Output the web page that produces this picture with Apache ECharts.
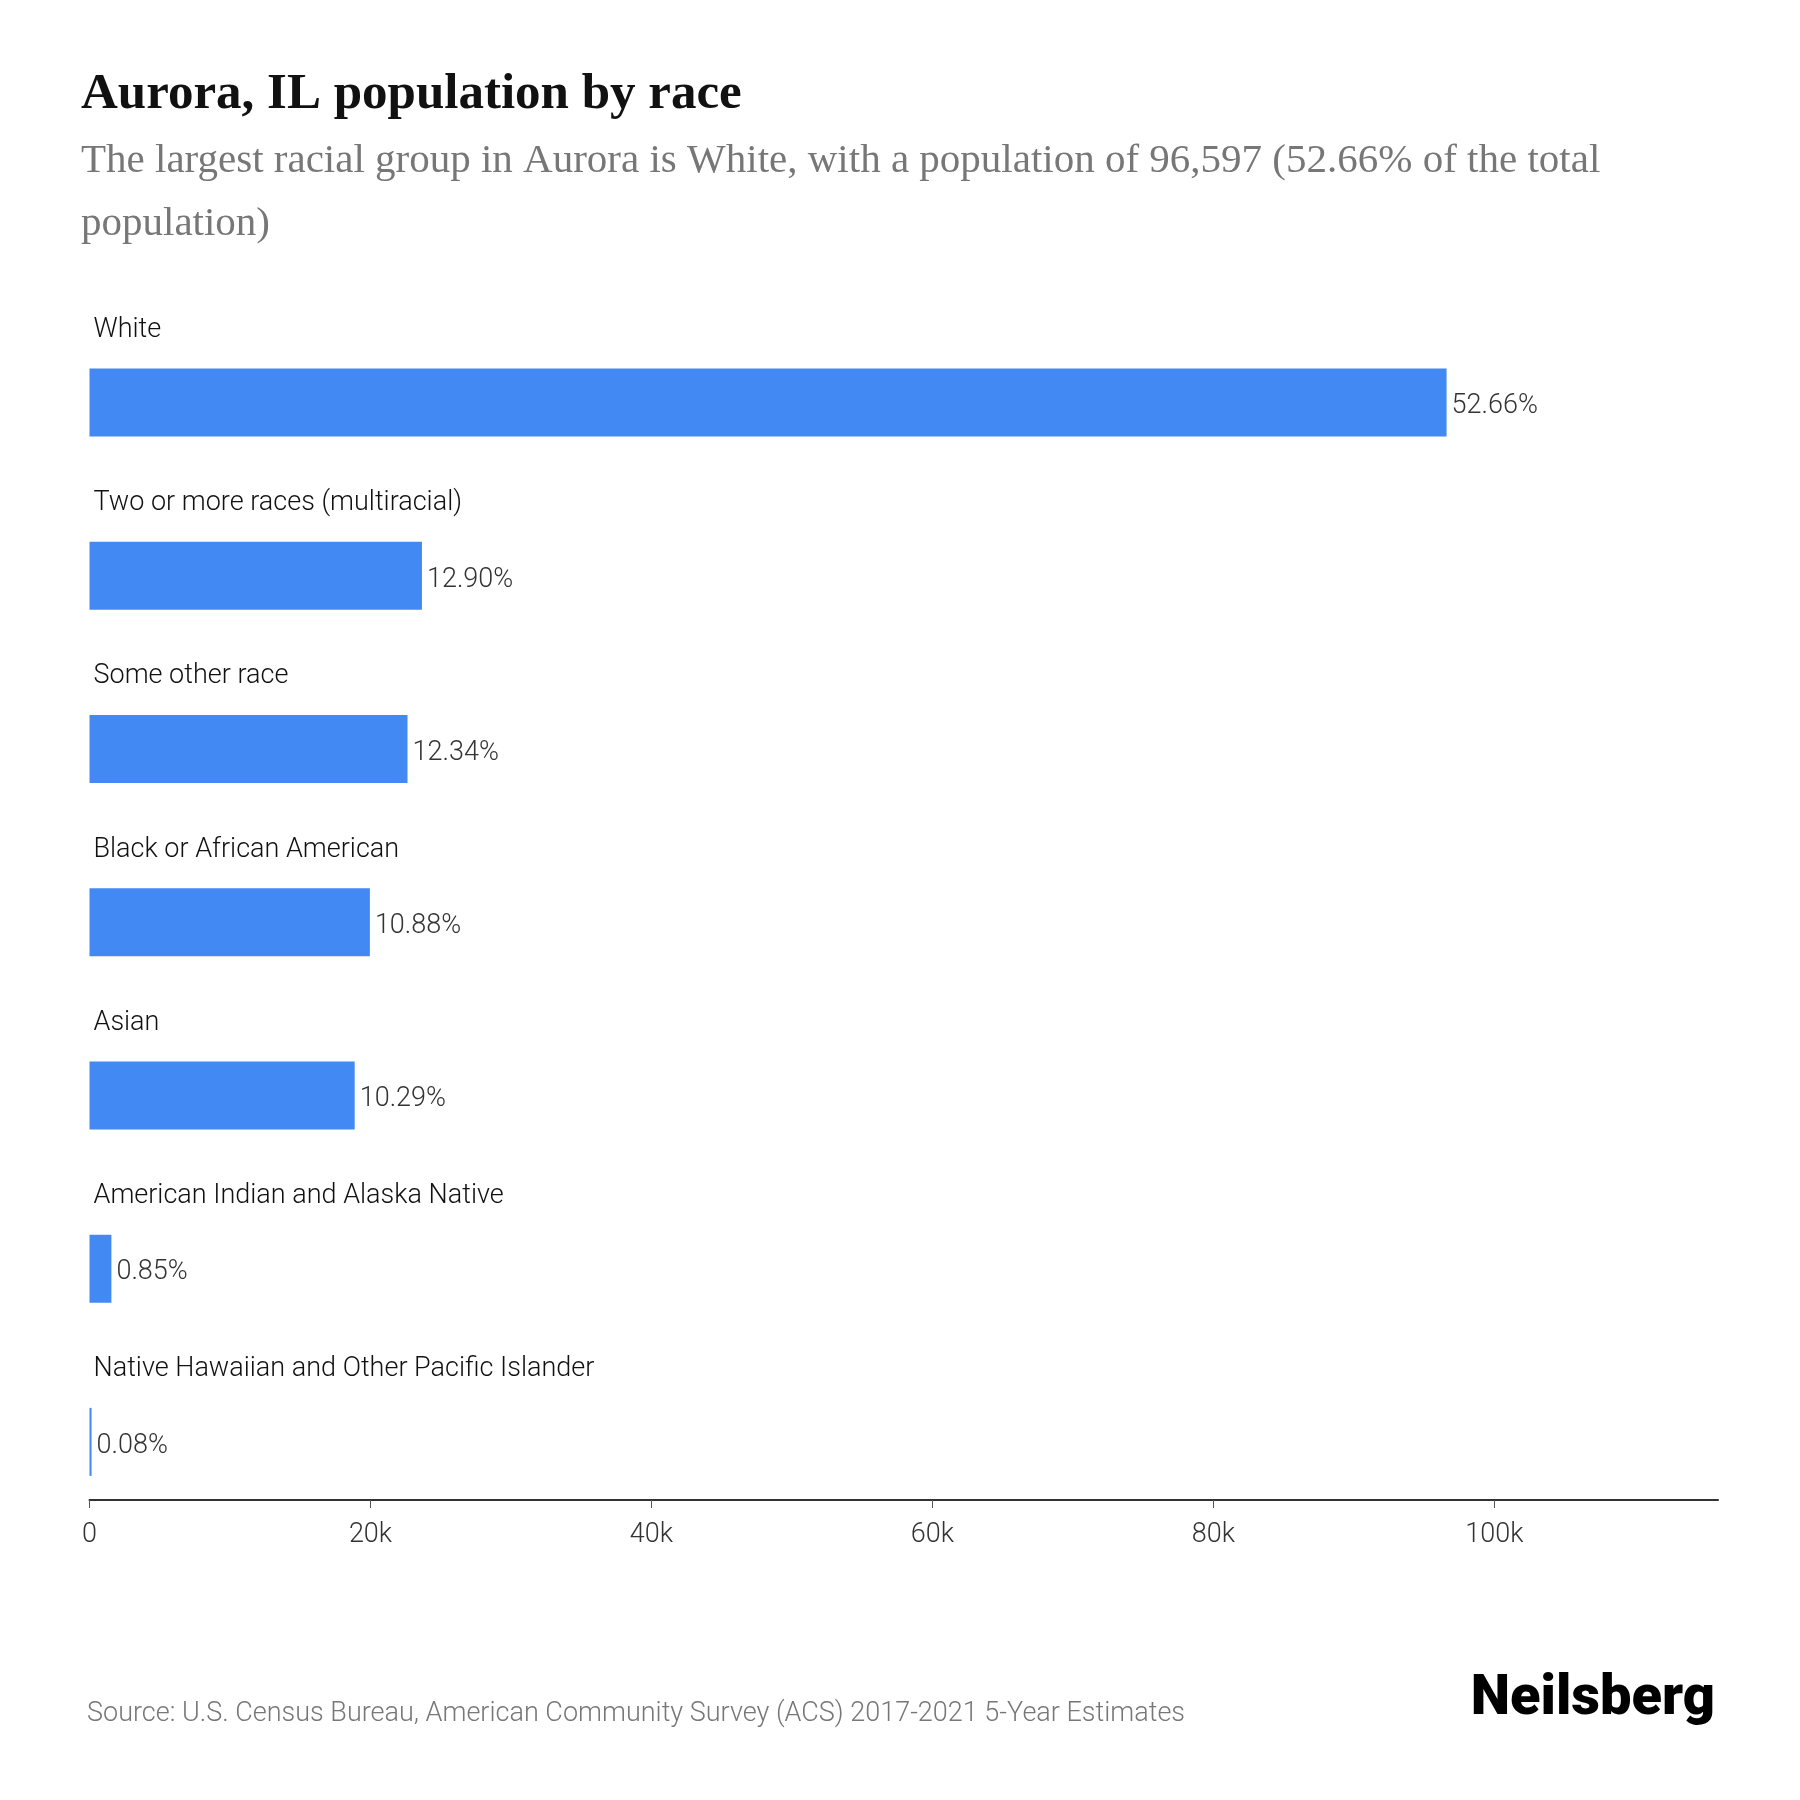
<!DOCTYPE html>
<html>
<head>
<meta charset="utf-8">
<script src="https://cdn.jsdelivr.net/npm/echarts@6/dist/echarts.min.js"></script>
<style>
  html, body { margin: 0; padding: 0; background: #ffffff; }
  #chart { width: 1800px; height: 1800px; }
</style>
</head>
<body>
<div id="chart"></div>
<script>
const categories = [
  'White',
  'Two or more races (multiracial)',
  'Some other race',
  'Black or African American',
  'Asian',
  'American Indian and Alaska Native',
  'Native Hawaiian and Other Pacific Islander'
];
const population = [96597, 23663, 22636, 19958, 18875, 1559, 147];
const percentLabels = ['52.66%', '12.90%', '12.34%', '10.88%', '10.29%', '0.85%', '0.08%'];
const tickValues = [0, 20000, 40000, 60000, 80000, 100000];
const axisMax = 115916;

const chart = echarts.init(document.getElementById('chart'), null, { renderer: 'canvas' });

chart.setOption({
  backgroundColor: '#ffffff',
  animation: false,
  title: [
    {
      text: 'Aurora, IL population by race',
      left: 76,
      top: 64,
      textStyle: {
        fontFamily: 'Liberation Serif',
        fontWeight: 'bold',
        fontSize: 51,
        color: '#111111'
      }
    },
    {
      text: 'The largest racial group in Aurora is White, with a population of 96,597 (52.66% of the total\npopulation)',
      left: 76,
      top: 125,
      textStyle: {
        fontFamily: 'Liberation Serif',
        fontWeight: 'normal',
        fontSize: 41,
        lineHeight: 63,
        color: '#777777'
      }
    },
    {
      text: 'Source: U.S. Census Bureau, American Community Survey (ACS) 2017-2021 5-Year Estimates',
      left: 82,
      top: 1696,
      textStyle: {
        fontFamily: 'Roboto',
        fontWeight: 300,
        fontSize: 27,
        color: '#777777'
      }
    },
    {
      text: 'Neilsberg',
      right: 80,
      top: 1667,
      textStyle: {
        fontFamily: 'Roboto',
        fontWeight: 900,
        fontSize: 56,
        color: '#000000'
      }
    }
  ],
  grid: {
    left: 89.5,
    right: 82,
    top: 316,
    bottom: 271.5,
    containLabel: false,
    outerBoundsMode: 'none'
  },
  xAxis: {
    type: 'value',
    min: 0,
    max: axisMax,
    interval: 20000,
    offset: -28.5,
    splitLine: { show: false },
    axisLine: { show: true, lineStyle: { color: '#333333', width: 2 } },
    axisTick: { show: true, length: 8, customValues: tickValues, lineStyle: { color: '#555555', width: 1 } },
    axisLabel: {
      customValues: tickValues,
      margin: 22,
      fontFamily: 'Roboto',
      fontWeight: 300,
      fontSize: 27,
      color: '#333333',
      formatter: function (v) { return v === 0 ? '0' : (v / 1000) + 'k'; }
    }
  },
  yAxis: {
    type: 'category',
    data: categories,
    inverse: true,
    axisLine: { show: false },
    axisTick: { show: false },
    splitLine: { show: false },
    axisLabel: {
      inside: true,
      margin: 4,
      align: 'left',
      verticalAlign: 'bottom',
      lineHeight: 145,
      fontFamily: 'Roboto',
      fontWeight: 300,
      fontSize: 27,
      color: '#111111'
    }
  },
  series: [
    {
      type: 'bar',
      data: population,
      barWidth: 68,
      itemStyle: { color: '#4389f4' },
      label: {
        show: true,
        position: 'right',
        distance: 5,
        offset: [0, 4],
        fontFamily: 'Roboto',
        fontWeight: 300,
        fontSize: 27,
        color: '#333333',
        formatter: function (p) { return percentLabels[p.dataIndex]; }
      }
    }
  ]
});
</script>
</body>
</html>
